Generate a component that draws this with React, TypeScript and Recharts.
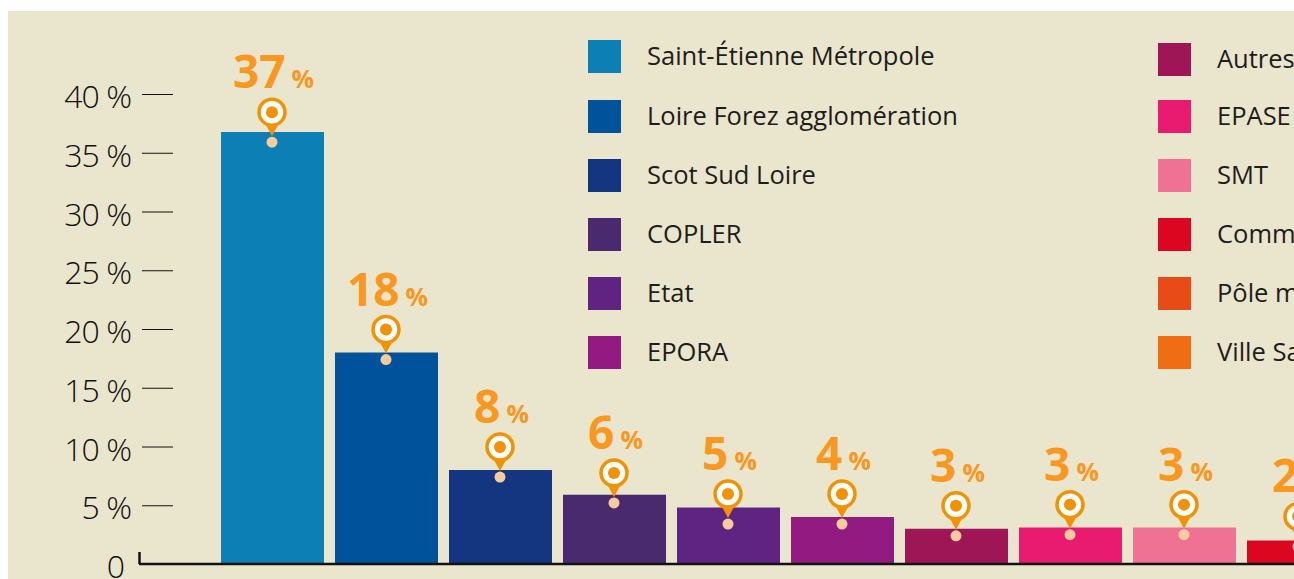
import { Bar, Cell, ComposedChart, Line, XAxis, YAxis } from "recharts";

const categories = [
  "Saint-Étienne Métropole",
  "Loire Forez agglomération",
  "Scot Sud Loire",
  "COPLER",
  "Etat",
  "EPORA",
  "Autres",
  "EPASE",
  "SMT",
  "Communes",
  "Pôle métropolitain",
  "Ville Saint-Étienne",
];
const shares = [36.77, 18, 8, 5.9, 4.8, 4, 3, 3.1, 3.1, 2, 2, 2];
const shareLabels = [37, 18, 8, 6, 5, 4, 3, 3, 3, 2, 2, 2];
// where the little pale dot of each marker sits, in the same % units
const markerValues = [35.9, 17.4, 7.4, 5.2, 3.4, 3.4, 2.4, 2.5, 2.5, 1.5, 1.5, 1.5];
const yTicks = [0, 5, 10, 15, 20, 25, 30, 35, 40];

const COLOURS = [
  "#0c80b5",
  "#00529b",
  "#14357f",
  "#4a2a6e",
  "#5f2382",
  "#931a80",
  "#9e1656",
  "#e91b70",
  "#ef7194",
  "#dc0620",
  "#e84b16",
  "#f06d13",
];

const ORANGE = "#f39200";
const LABEL_ORANGE = "#f9971f";
const INK = "#1d1d1b";

const data = categories.map((name, i) => ({
  name,
  share: shares[i],
  marker: markerValues[i],
  label: shareLabels[i],
}));

function AxisTick({ x, y, payload }: any) {
  if (payload.value === 0) {
    return (
      <g>
        <text x={x - 8} y={y + 14} textAnchor="end" fontFamily="Open Sans" fontWeight={300} fontSize={32} fill="#111">
          0
        </text>
        <line x1={x + 6.5} x2={x + 6.5} y1={y - 12} y2={y} stroke="#111" strokeWidth={2.5} />
      </g>
    );
  }
  return (
    <g>
      <text x={x - 2} y={y + 14} textAnchor="end" fontFamily="Open Sans" fontWeight={300} fontSize={32} letterSpacing={-1} fill="#111">
        {payload.value} %
      </text>
      <line x1={x + 9} x2={x + 40} y1={y + 0.5} y2={y + 0.5} stroke="#111" strokeWidth={1} />
    </g>
  );
}

function Marker({ cx, cy, payload }: any) {
  const py = cy - 30;
  return (
    <g>
      <path d={`M${cx - 7} ${py + 11} L${cx} ${py + 24} L${cx + 7} ${py + 11} Z`} fill={ORANGE} />
      <circle cx={cx} cy={py} r={13} fill="#fff" stroke={ORANGE} strokeWidth={3.5} />
      <circle cx={cx} cy={py} r={6} fill={ORANGE} />
      <circle cx={cx} cy={cy} r={5.5} fill="#f8cc9a" />
      <text x={cx + 1.5} y={py - 24} textAnchor="middle" fontFamily="Open Sans" fontWeight={700} fill={LABEL_ORANGE} fontSize={46}>
        {payload.label}
        <tspan fontSize={25} dx={6}>%</tspan>
      </text>
    </g>
  );
}

// swatch rows of the two legend columns, in chart pixels
const LEGEND_COLUMNS = [
  { x: 580, rows: [29, 89, 148, 207, 266, 325] },
  { x: 1150, rows: [32, 89, 148, 207, 266, 325] },
];

function LegendBlock() {
  return (
    <g>
      {LEGEND_COLUMNS.map((col, c) =>
        col.rows.map((y, r) => {
          const i = c * 6 + r;
          return (
            <g key={i}>
              <rect x={col.x} y={y} width={33} height={33} fill={COLOURS[i]} />
              <text x={col.x + 59} y={y + 25} fontFamily="Open Sans" fontSize={25.5} fill={INK}>
                {categories[i]}
              </text>
            </g>
          );
        }),
      )}
    </g>
  );
}

export default function App() {
  return (
    <div
      style={{
        position: "absolute",
        left: 8,
        top: 11,
        width: 1286,
        height: 568,
        overflow: "hidden",
        background: "#eae6cd",
      }}
    >
      <ComposedChart
        width={1575}
        height={568}
        data={data}
        margin={{ top: 83, right: 0, bottom: 14, left: 0 }}
      >
        <XAxis
          dataKey="name"
          tick={false}
          tickLine={false}
          height={1}
          padding={{ left: 76, right: 0 }}
          axisLine={{ stroke: "#111", strokeWidth: 2.5 }}
        />
        <YAxis
          width={131}
          domain={[0, 40]}
          ticks={yTicks}
          interval={0}
          axisLine={false}
          tickLine={false}
          tickMargin={0}
          tick={<AxisTick />}
        />
        <Bar dataKey="share" barSize={103} isAnimationActive={false}>
          {data.map((d, i) => (
            <Cell key={d.name} fill={COLOURS[i]} />
          ))}
        </Bar>
        <Line
          dataKey="marker"
          stroke="none"
          dot={<Marker />}
          activeDot={false}
          isAnimationActive={false}
        />
        <LegendBlock />
      </ComposedChart>
    </div>
  );
}
